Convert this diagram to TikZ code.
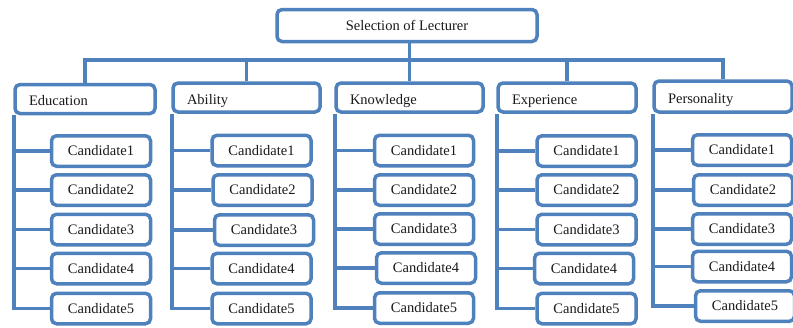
\documentclass[tikz,border=0pt]{standalone}
\usepackage{fontspec}
\setmainfont{Liberation Serif}
\definecolor{ln}{HTML}{4F81BD}
\definecolor{tx}{HTML}{1A1A1A}
\begin{document}
\begin{tikzpicture}[x=1pt,y=-1pt,
  conn/.style={draw=ln, line width=3.5pt},
  box/.style={draw=ln, line width=3.5pt, rounded corners=5pt, fill=white, text=tx,
    font=\fontsize{14.5}{16}\selectfont, inner sep=0pt},
  cand/.style={box, minimum width=99pt, minimum height=30.5pt},
  cat/.style={box, minimum height=29pt, inner xsep=14pt, align=left,
    text height=15pt, text depth=2pt},
  topbox/.style={box, minimum width=260pt, minimum height=32pt}]
\clip (0,0) rectangle (793,327);
\fill[white] (0,0) rectangle (793,327);

\node[topbox] (top) at (407,25.5) {Selection of Lecturer};

\node[cat, text width=112pt] (edu) at (85,99) {Education};
\node[cat, text width=119pt] (abi) at (246.5,97.5) {Ability};
\node[cat, text width=119pt] (kno) at (409.5,97.5) {Knowledge};
\node[cat, text width=110pt] (exp) at (567,97.5) {Experience};
\node[cat, text width=110pt, minimum height=31pt] (per) at (723,96.5) {Personality};

% Education
\node[cand] (e1) at (101,151) {Candidate1};
\node[cand] (e2) at (101,190) {Candidate2};
\node[cand] (e3) at (101,229.5) {Candidate3};
\node[cand] (e4) at (101,268.5) {Candidate4};
\node[cand] (e5) at (101,308.5) {Candidate5};
% Ability
\node[cand] (a1) at (261.5,150.5) {Candidate1};
\node[cand] (a2) at (262.5,190) {Candidate2};
\node[cand] (a3) at (264,230) {Candidate3};
\node[cand] (a4) at (261.5,268.5) {Candidate4};
\node[cand] (a5) at (261.5,308.5) {Candidate5};
% Knowledge
\node[cand] (k1) at (424,150.5) {Candidate1};
\node[cand] (k2) at (424,190) {Candidate2};
\node[cand] (k3) at (424,229) {Candidate3};
\node[cand] (k4) at (426,268) {Candidate4};
\node[cand] (k5) at (424,308) {Candidate5};
% Experience
\node[cand] (x1) at (586.5,151) {Candidate1};
\node[cand] (x2) at (586.5,190) {Candidate2};
\node[cand] (x3) at (586.5,229.5) {Candidate3};
\node[cand] (x4) at (584,268.5) {Candidate4};
\node[cand] (x5) at (586.5,308.5) {Candidate5};
% Personality
\node[cand] (p1) at (742,150) {Candidate1};
\node[cand] (p2) at (743,190) {Candidate2};
\node[cand] (p3) at (742,229) {Candidate3};
\node[cand] (p4) at (742,266.5) {Candidate4};
\node[cand] (p5) at (745,306) {Candidate5};

% bus
\coordinate (bus) at (0,60);
\draw[conn] (kno.north |- top.south) -- (kno.north);
\draw[conn] (edu.north) -- (edu.north |- bus) -- (per.north |- bus) -- (per.north);
\draw[conn] (abi.north |- bus) -- (abi.north);
\draw[conn] (exp.north |- bus) -- (exp.north);

% spines
\foreach \c/\p in {edu/e,abi/a,kno/k,exp/x,per/p}{
  \draw[conn] ([xshift=0.5pt]\c.south west) -- ([xshift=0.5pt]\c.south west |- \p5.west) -- (\p5.west);
  \foreach \i in {1,2,3,4}{
    \draw[conn] ([xshift=0.5pt]\c.south west |- \p\i.west) -- (\p\i.west);
  }
}
\end{tikzpicture}
\end{document}
